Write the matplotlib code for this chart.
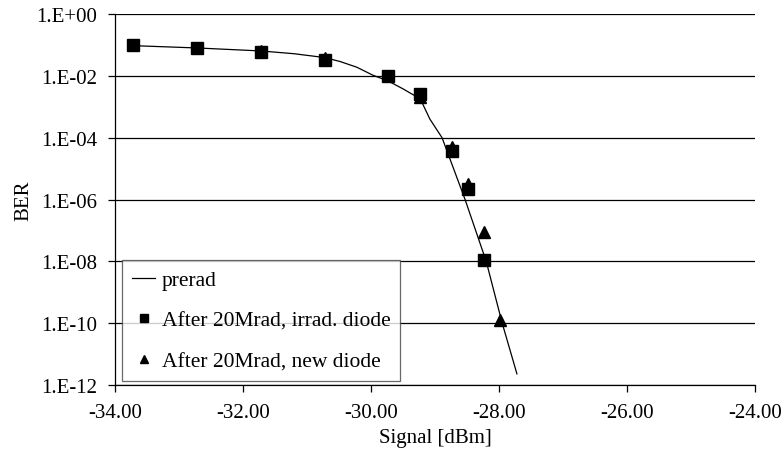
import numpy as np
import matplotlib
matplotlib.use("Agg")
import matplotlib.pyplot as plt
from matplotlib.ticker import FixedLocator, FuncFormatter, NullLocator

plt.rcParams['font.family'] = ['Liberation Serif', 'DejaVu Serif']

# preread curve
prerad_x = [-33.72, -32.72, -31.72, -31.2, -30.72, -30.48, -30.22, -29.97,
            -29.73, -29.5, -29.23, -29.08, -28.89, -28.53, -28.2, -27.95, -27.72]
prerad_y = [0.095, 0.08, 0.064, 0.052, 0.039, 0.029, 0.019, 0.0105,
            0.0068, 0.0038, 1.8e-3, 4e-4, 1e-4, 1e-6, 1e-8, 1e-10, 2.3e-12]

# After 20Mrad, irradiated diode
irr_x = [-33.72, -32.72, -31.72, -30.72, -29.73, -29.23, -28.73, -28.48, -28.23]
irr_y = [0.1, 0.08, 0.06, 0.033, 0.01, 2.5e-3, 3.7e-5, 2.2e-6, 1.1e-8]

# After 20Mrad, new diode
new_x = [-31.72, -30.72, -29.23, -28.73, -28.48, -28.23, -27.98]
new_y = [0.065, 0.038, 2e-3, 5e-5, 3.2e-6, 9e-8, 1.3e-10]

fig = plt.figure(figsize=(7.84, 4.56), dpi=100)
ax = fig.add_axes([0.1467, 0.1535, 0.8163, 0.8135])

ax.plot(prerad_x, prerad_y, color='black', lw=0.9, label='prerad')
ax.plot(irr_x, irr_y, ls='none', marker='s', ms=8, color='black',
        label='After 20Mrad, irrad. diode')
ax.plot(new_x, new_y, ls='none', marker='^', ms=8, color='black',
        label='After 20Mrad, new diode')

ax.set_yscale('log')
ax.set_xlim(-34, -24)
ax.set_ylim(1e-12, 1)

yt = [10.0 ** -k for k in range(0, 13, 2)]
ax.yaxis.set_major_locator(FixedLocator(yt))
ax.yaxis.set_minor_locator(NullLocator())
ax.yaxis.set_major_formatter(FuncFormatter(
    lambda v, p: '1.E+00' if v >= 1 else '1.E-%02d' % round(-np.log10(v))))
ax.set_xticks(np.arange(-34, -23, 2))
ax.xaxis.set_major_formatter(FuncFormatter(lambda v, p: '%.2f' % v))

ax.grid(axis='y', color='black', lw=0.9)
ax.tick_params(direction='out', length=5, width=0.9, labelsize=15, colors='black')
ax.tick_params(axis='x', pad=8)
ax.tick_params(axis='y', pad=8)
for s in ['top', 'right']:
    ax.spines[s].set_visible(False)
for s in ['left', 'bottom']:
    ax.spines[s].set_linewidth(0.9)

ax.set_xlabel('Signal [dBm]', fontsize=15, labelpad=4)
ax.set_ylabel('BER', fontsize=15, labelpad=2)

leg = ax.legend(loc='lower left', bbox_to_anchor=(0.011, 0.011), fontsize=15.5,
                frameon=True, fancybox=False, edgecolor='#444444',
                handlelength=1.1, handletextpad=0.3, labelspacing=0.95,
                borderpad=0.45, borderaxespad=0, markerscale=0.65)
leg.get_frame().set_linewidth(0.9)

fig.savefig('out.png', dpi=100)
